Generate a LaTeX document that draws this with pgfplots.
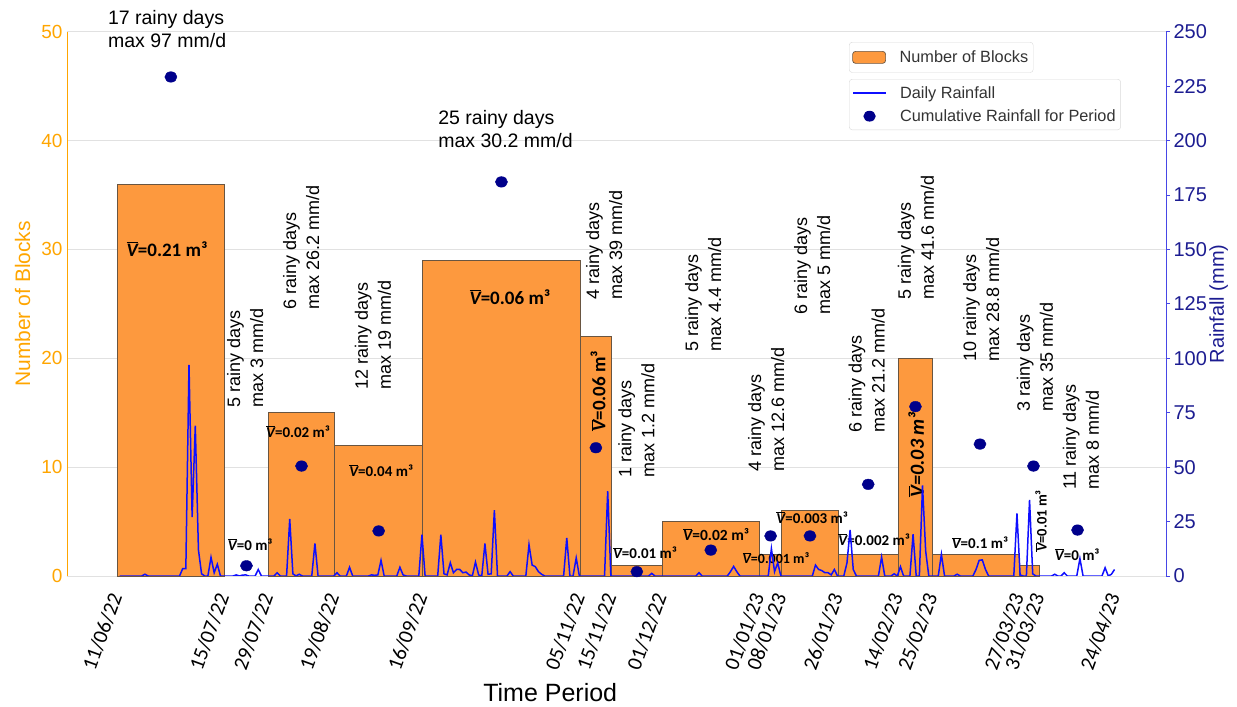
\documentclass[border=0pt]{standalone}
\usepackage{pgfplots}
\usepackage{pgfplotstable}
\pgfplotsset{compat=1.18}
\usepackage{fontspec}
\setmainfont{Liberation Sans}
\newfontfamily\calfont{Carlito}
\definecolor{barfill}{RGB}{253,153,62}
\definecolor{baredge}{RGB}{105,85,65}
\definecolor{lorange}{RGB}{255,165,0}
\definecolor{rblue}{RGB}{28,28,145}
\definecolor{spblue}{RGB}{70,70,230}
\definecolor{lineblue}{RGB}{15,15,255}
\definecolor{dotblue}{RGB}{0,0,139}
\definecolor{gridgray}{RGB}{225,225,225}
\newcommand{\fs}[2]{\fontsize{#1bp}{#2bp}\selectfont}
\newcommand{\Vb}{$\overline{\mbox{\itshape V}}$}

\pgfplotstableread{
d r
0 0
7 0
8 0.8
9 0
19 0
20 3.4
21 3.4
22 97
23 27
24 69
25 12
26 1
27 0
28 0
29 8.6
30 1.5
31 5.4
32 0
36 0
37 0.5
38 0
39 0.4
40 0.5
41 0
43 0
44 3
45 0
49 0
50 1.5
51 0
53 0
54 26.2
55 1
56 0
57 0.8
58 0
61 0
62 15
63 0
68 0
69 1.5
70 0
72 0
73 4
74 0
79 0
80 0.5
81 0.3
82 0.5
83 7.2
84 0
88 0
89 4
90 0.5
91 0
95 0
96 19
97 0
101 0
102 19
103 1
104 0.5
105 6.1
106 1.5
107 3
108 3
109 1.5
110 1.8
111 0.5
112 0
113 6.4
114 0.5
115 0
116 14.9
117 0.8
118 1
119 30.2
120 0
123 0
124 2
125 0
129 0
130 14.4
131 5
132 4.3
133 2
134 0.8
135 0
141 0
142 17.5
143 0
144 0
145 8.3
146 0
154 0
155 39
156 0
168 0
169 1.2
170 0
183 0
184 1.5
185 0
193 0
194 2
195 4.4
196 2
197 0
206 0
207 12.6
208 2
209 6
210 0
220 0
221 5
222 3
223 2.5
224 1.5
225 1.5
226 0.5
227 3
228 0
230 0
231 6
232 21.2
233 3
234 0
241 0
242 8.7
243 0
245 0
246 1
247 0
248 4.3
249 0
251 0
252 19.2
253 0
254 0
255 41.6
256 11.5
257 0
260 0
261 10
262 0
265 0
266 0.8
267 0
271 0
272 3
273 7.2
274 7.4
275 3
276 0
284 0
285 28.8
286 0.5
287 0
288 0
289 35
290 1
291 0
296 0
297 0.8
298 0
299 0
300 1.5
301 0
304 0
305 8
306 0
312 0
313 3.8
314 0
315 0.8
316 3
}\rainTable

\pgfplotstableread{
x y
17 229.2
41 4.7
58.5 50.5
83 20.7
122 181
152 58.9
165 2
188.5 11.9
207.5 18.4
220 18.4
238.5 42.1
253.5 77.8
274 60.6
291 50.5
305 21.1
}\cumTable

\begin{document}
\begin{tikzpicture}
\path[use as bounding box] (-67bp,-131bp) rectangle (1170bp,576bp);
\begin{axis}[
  at={(0bp,0bp)}, anchor=south west,
  scale only axis, width=1099bp, height=544.3bp,
  xmin=-16, xmax=333.1, ymin=0, ymax=50,
  clip=false,
  axis y line*=left, axis x line*=bottom,
  x axis line style={draw=gridgray, line width=0.8bp},
  y axis line style={draw=lorange, line width=0.9bp},
  ytick={0,10,...,50},
  ymajorgrids, major grid style={draw=gridgray, line width=0.8bp},
  ytick style={draw=none}, xtick style={draw=none},
  /pgf/number format/assume math mode=true,
  yticklabel style={font=\fs{19}{22}, text=lorange, xshift=-1bp},
  xtick={0,34,48,69,97,147,157,173,204,211,229,248,259,286.5,293,317},
  xticklabels={11/06/22,15/07/22,29/07/22,19/08/22,16/09/22,05/11/22,15/11/22,01/12/22,01/01/23,08/01/23,26/01/23,14/02/23,25/02/23,27/03/23,31/03/23,24/04/23},
  xticklabel style={font=\calfont\fs{21}{23}, xshift=-1bp, yshift=-17bp, rotate=70, anchor=east, inner sep=1bp},
  legend style={at={(0.7116,0.981)}, anchor=north west, draw=black!15, rounded corners=3bp, font=\fs{16.3}{19}, text=black!80, inner xsep=3bp, inner ysep=6.5bp},
  legend cell align=left,
]
\addplot[ybar interval, fill=barfill, draw=baredge, line width=0.7bp, forget plot]
  coordinates {(0,36) (34,36)};
\addlegendimage{legend image code/.code={\draw[fill=barfill, draw=baredge, line width=0.7bp] (0bp,-6bp) rectangle (33bp,6bp); \path[draw=none] (45bp,0bp);}}
\addlegendentry{Number of Blocks}
\addplot[ybar interval, fill=barfill, draw=baredge, line width=0.7bp, forget plot]
  coordinates {(48,15) (69,12) (97,29) (147,22) (157,1) (173,5) (204,2) (211,6) (229,2) (248,20) (259,2) (286.5,1) (293,1)};

% axis titles
\node[rotate=90, text=lorange, font=\fs{21}{24}] at (axis cs:-30.1,25) {Number of Blocks};
\node[rotate=90, text=rblue, font=\fs{20}{23}] at (axis cs:349.8,25) {Rainfall (mm)};
\node[font=\fs{25}{28}] at (axis cs:137.5,-10.75) {Time Period};

% rainy day annotations
\node[align=left, font=\fs{19.5}{23}, inner sep=0pt] at (axis cs:15.8,50.29) {17 rainy days\\max 97 mm/d};
\node[align=left, anchor=west, font=\fs{19.5}{23}, inner sep=0pt] at (axis cs:101.9,41.1) {25 rainy days\\max 30.2 mm/d};
\tikzset{rl/.style={rotate=90, anchor=west, align=left, font=\fs{18}{23}, inner sep=0pt}}
\node[rl] at (axis cs:40.6,15.5) {5 rainy days\\max 3 mm/d};
\node[rl] at (axis cs:58.4,24.5) {6 rainy days\\max 26.2 mm/d};
\node[rl] at (axis cs:81.2,17.1) {12 rainy days\\max 19 mm/d};
\node[rl] at (axis cs:154.6,25.4) {4 rainy days\\max 39 mm/d};
\node[rl] at (axis cs:164.9,9.0) {1 rainy days\\max 1.2 mm/d};
\node[rl] at (axis cs:186.1,20.6) {5 rainy days\\max 4.4 mm/d};
\node[rl] at (axis cs:206.1,9.55) {4 rainy days\\max 12.6 mm/d};
\node[rl] at (axis cs:220.7,24.0) {6 rainy days\\max 5 mm/d};
\node[rl] at (axis cs:238.0,13.14) {6 rainy days\\max 21.2 mm/d};
\node[rl] at (axis cs:253.7,25.35) {5 rainy days\\max 41.6 mm/d};
\node[rl] at (axis cs:274.4,19.66) {10 rainy days\\max 28.8 mm/d};
\node[rl] at (axis cs:291.5,15.07) {3 rainy days\\max 35 mm/d};
\node[rl] at (axis cs:306.1,7.9) {11 rainy days\\max 8 mm/d};

% volume annotations
\tikzset{vl/.style={font=\calfont\bfseries\fs{#1}{#1}, inner sep=0pt}}
\node[vl=19] at (axis cs:15.8,30.04) {\Vb=0.21 m³};
\node[vl=15] at (axis cs:42.2,2.85) {\Vb=0 m³};
\node[vl=15] at (axis cs:57.4,13.23) {\Vb=0.02 m³};
\node[vl=15] at (axis cs:83.8,9.65) {\Vb=0.04 m³};
\node[vl=19] at (axis cs:124.7,25.63) {\Vb=0.06 m³};
\node[vl=19, rotate=90] at (axis cs:152.7,16.99) {\Vb=0.06 m³};
\node[vl=15] at (axis cs:167.6,2.11) {\Vb=0.01 m³};
\node[vl=15.5] at (axis cs:190.2,3.77) {\Vb=0.02 m³};
\node[vl=14] at (axis cs:209.2,1.65) {\Vb=0.001 m³};
\node[vl=15] at (axis cs:220.7,5.33) {\Vb=0.003 m³};
\node[vl=15] at (axis cs:240.4,3.31) {\Vb=0.002 m³};
\node[vl=20, rotate=90] at (axis cs:253.7,11.12) {\itshape\Vb=0.03 m³};
\node[vl=15] at (axis cs:274.0,3.03) {\Vb=0.1 m³};
\node[vl=14.5, rotate=90] at (axis cs:293.4,5.05) {\Vb=0.01 m³};
\node[vl=15] at (axis cs:304.9,1.93) {\Vb=0 m³};
\end{axis}

\begin{axis}[
  at={(0bp,0bp)}, anchor=south west,
  scale only axis, width=1099bp, height=544.3bp,
  xmin=-16, xmax=333.1, ymin=0, ymax=250,
  axis y line*=right, axis x line=none,
  y axis line style={draw=spblue, line width=0.9bp},
  ytick={0,25,...,250},
  tick align=outside,
  ytick style={draw=spblue, line width=0.8bp},
  major tick length=4bp,
  /pgf/number format/assume math mode=true,
  yticklabel style={font=\fs{20}{23}, text=rblue},
  legend style={at={(0.7116,0.913)}, anchor=north west, draw=black!15, rounded corners=3bp, font=\fs{16.3}{19}, text=black!80, inner xsep=3bp, inner ysep=5bp, row sep=6bp},
  legend cell align=left,
]
\addplot[lineblue, line width=1.5bp, mark=none, forget plot]
  table[x expr=\thisrow{d}+0.75, y=r] {\rainTable};
\addplot[only marks, mark=*, mark size=5.3bp, mark options={xscale=1.15, fill=dotblue, draw=dotblue}, forget plot]
  table[x=x, y=y] {\cumTable};
\addlegendimage{legend image code/.code={\draw[lineblue, line width=1.6bp] (0bp,0bp) -- (33bp,0bp); \path[draw=none] (45bp,0bp);}}
\addlegendentry{Daily Rainfall}
\addlegendimage{legend image code/.code={\path[draw=none] (0bp,0bp); \path[draw=none] (45bp,0bp); \fill[dotblue, draw=none] (16.5bp,0bp) ellipse (6.2bp and 5.4bp);}}
\addlegendentry{Cumulative Rainfall for Period}
\end{axis}
\end{tikzpicture}
\end{document}
